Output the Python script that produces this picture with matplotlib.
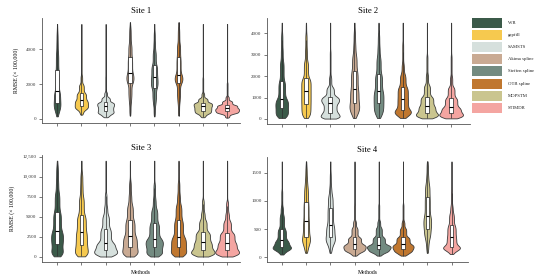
import math
import numpy as np
import matplotlib
matplotlib.use("Agg")
import matplotlib.pyplot as plt
from matplotlib.patches import Rectangle

plt.rcParams['font.family'] = ['Liberation Serif', 'DejaVu Serif']

methods = ['WR', 'gapfill', 'SAMSTS', 'Akima spline', 'Steffen spline',
           'OTB spline', 'MOPSTM', 'STIMDR']
colors = ['#3b5a49', '#f6c94f', '#d6e0dd', '#c9aa93', '#738b81',
          '#c0772f', '#cac58f', '#f4a5a1']

# quantile levels read for every violin
probs = [0, 0.05, 0.10, 0.25, 0.50, 0.75, 0.90, 0.95, 0.99, 1.0]

site1 = [
    [150, 450, 600, 940, 1590, 2790, 3800, 4400, 5000, 5450],
    [250, 480, 580, 760, 1070, 1500, 2000, 2500, 3800, 5450],
    [100, 220, 300, 450, 720, 960, 1250, 1550, 2500, 5450],
    [200, 900, 1250, 2050, 2610, 3530, 4300, 4800, 5250, 5550],
    [150, 800, 1100, 1780, 2390, 3100, 3900, 4400, 5000, 5450],
    [200, 900, 1250, 2050, 2550, 3530, 4300, 4800, 5250, 5550],
    [100, 250, 330, 480, 720, 940, 1200, 1500, 2400, 5450],
    [80, 260, 330, 440, 610, 810, 1050, 1300, 2100, 5450],
]
site2 = [
    [50, 150, 220, 500, 935, 1776, 2700, 3300, 4000, 4500],
    [50, 200, 330, 700, 1300, 1900, 2700, 3300, 4000, 4500],
    [20, 70, 110, 300, 740, 1050, 1500, 2000, 3200, 4500],
    [50, 280, 400, 730, 1400, 2250, 3000, 3500, 4100, 4500],
    [50, 250, 380, 730, 1300, 2100, 2900, 3400, 4000, 4500],
    [50, 170, 250, 420, 950, 1500, 2100, 2600, 3600, 4500],
    [30, 90, 140, 280, 610, 1050, 1600, 2100, 3000, 4500],
    [30, 80, 130, 260, 545, 1000, 1500, 2000, 3000, 4500],
]
site3 = [
    [80, 400, 600, 1670, 3210, 5625, 8000, 9500, 11200, 12000],
    [80, 350, 550, 1460, 3130, 5210, 7500, 9000, 10500, 12000],
    [60, 250, 400, 840, 1800, 3540, 5200, 6300, 8000, 12000],
    [60, 350, 500, 1250, 2590, 4590, 6500, 7800, 9500, 12000],
    [60, 350, 500, 1250, 2300, 4200, 6000, 7300, 9200, 12000],
    [60, 350, 500, 1250, 2500, 4590, 6500, 7800, 9500, 12000],
    [60, 250, 400, 840, 1850, 3130, 4600, 5600, 7200, 12000],
    [60, 250, 400, 840, 1800, 3050, 4500, 5500, 7000, 12000],
]
site4 = [
    [50, 110, 140, 182, 300, 508, 750, 900, 1200, 1700],
    [80, 180, 250, 360, 640, 980, 1250, 1400, 1600, 1700],
    [80, 200, 260, 360, 566, 880, 1100, 1250, 1500, 1700],
    [30, 80, 105, 154, 230, 360, 530, 650, 950, 1700],
    [30, 80, 100, 150, 220, 360, 530, 650, 950, 1700],
    [30, 70, 95, 150, 230, 360, 520, 640, 950, 1700],
    [80, 250, 350, 510, 730, 1070, 1300, 1450, 1650, 1700],
    [60, 120, 150, 182, 360, 566, 780, 920, 1200, 1700],
]

site_titles = ['Site 1', 'Site 2', 'Site 3', 'Site 4']
yticks = [[0, 2000, 4000], [0, 1000, 2000, 3000, 4000],
          [0, 2500, 5000, 7500, 10000, 12500], [0, 500, 1000, 1500]]
ytick_labels = [['0', '2000', '4000'], ['0', '1000', '2000', '3000', '4000'],
                ['0', '2500', '5000', '7500', '10,000', '12,500'],
                ['0', '500', '1000', '1500']]
ylims = [(-230, 5790), (-234, 4720), (-625, 12710), (-83, 1778)]

erf = np.vectorize(math.erf)


def smooth_density(q, y):
    # piecewise-uniform mass between quantiles, softened by a gaussian
    h = 0.1 * (q[5] - q[3])
    d = np.zeros_like(y)
    for i in range(len(q) - 1):
        a, b = q[i], q[i + 1]
        m = probs[i + 1] - probs[i]
        ca = 0.5 * (1 + erf((y - a) / (h * math.sqrt(2))))
        cb = 0.5 * (1 + erf((y - b) / (h * math.sqrt(2))))
        d += m / (b - a) * (ca - cb)
    return d


fig = plt.figure(figsize=(5.5, 2.76), dpi=100)
W, H = 550, 276
boxes = [(42, 240, 18, 123), (267, 470, 18, 124),
         (42, 240, 155, 262), (267, 468, 157, 262)]
xlims = [(-0.62, 7.53), (-0.61, 7.78), (-0.62, 7.53), (-0.61, 7.68)]

for k, data in enumerate([site1, site2, site3, site4]):
    x0, x1, y0, y1 = boxes[k]
    ax = fig.add_axes([x0 / W, 1 - y1 / H, (x1 - x0) / W, (y1 - y0) / H])
    stats = []
    for q in data:
        y = np.linspace(q[0], q[-1], 300)
        v = smooth_density(q, y)
        stats.append(dict(coords=y, vals=v, mean=np.mean(q), median=q[4],
                          min=q[0], max=q[-1]))
    maxd = max(s['vals'].max() for s in stats)
    widths = [0.98 * s['vals'].max() / maxd for s in stats]
    pos = np.arange(len(data))
    parts = ax.violin(stats, positions=pos, widths=widths, showmeans=False,
                      showextrema=False, showmedians=False)
    for body, c in zip(parts['bodies'], colors):
        body.set_facecolor(c)
        body.set_edgecolor('#3a3a3a')
        body.set_linewidth(0.6)
        body.set_alpha(1)
    bw = 0.14
    for p, q in zip(pos, data):
        iqr = q[5] - q[3]
        lo = max(q[0], q[3] - 1.5 * iqr)
        hi = min(q[-1], q[5] + 1.5 * iqr)
        ax.vlines(p, lo, hi, color='#2e2e2e', lw=0.5, zorder=3)
        ax.add_patch(Rectangle((p - bw / 2, q[3]), bw, iqr, facecolor='white',
                               edgecolor='#222222', lw=0.5, zorder=4))
        ax.hlines(q[4], p - bw / 2, p + bw / 2, color='black', lw=0.8, zorder=5)

    ax.set_xlim(*xlims[k])
    ax.set_ylim(*ylims[k])
    ax.set_xticks(pos)
    ax.set_xticklabels([])
    ax.set_yticks(yticks[k])
    ax.set_yticklabels(ytick_labels[k])
    ax.tick_params(labelsize=3.6, length=2.4, width=0.5, pad=1.5,
                   colors='#444444', labelcolor='#333333')
    for s in ['top', 'right']:
        ax.spines[s].set_visible(False)
    for s in ['left', 'bottom']:
        ax.spines[s].set_linewidth(0.6)
        ax.spines[s].set_color('#555555')
    ax.set_title(site_titles[k], fontsize=6.2, pad=3.5)
    if k % 2 == 0:
        ax.set_ylabel('RMSE (× 100,000)', fontsize=4.2, labelpad=5)
    if k >= 2:
        ax.set_xlabel('Methods', fontsize=4.1, labelpad=2)

# legend drawn as coloured blocks on its own axes
lax = fig.add_axes([0, 0, 1, 1], facecolor='none')
lax.set_xlim(0, W)
lax.set_ylim(H, 0)
lax.axis('off')
for i, (m, c) in enumerate(zip(methods, colors)):
    yc = 23 + 12.1 * i
    lax.add_patch(Rectangle((472, yc - 5), 30, 10, facecolor=c, edgecolor='none'))
    lax.text(508, yc, m, fontsize=3.4, va='center', ha='left', color='#222222')

fig.savefig('out.png', dpi=100)
